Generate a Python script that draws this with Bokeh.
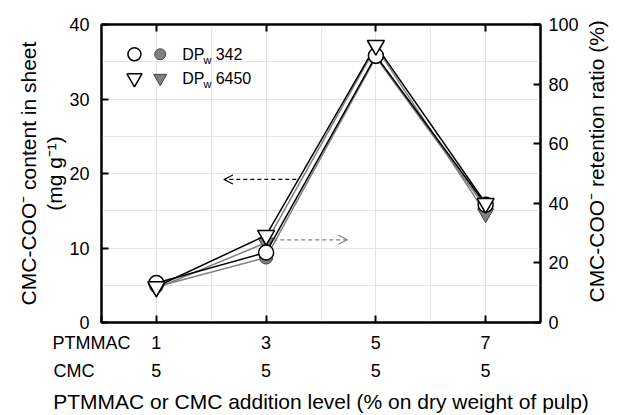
import math
from bokeh.plotting import figure
from bokeh.models import Range1d, LinearAxis, FixedTicker, Title, Label, Arrow, OpenHead
from bokeh.embed import file_html
from bokeh.resources import INLINE

# ---- data ----
x_levels = [1, 3, 5, 7]
ptmmac_labels = ["1", "3", "5", "7"]
cmc_labels = ["5", "5", "5", "5"]
row_names = ["PTMMAC", "CMC"]
content_342 = [5.3, 9.4, 35.8, 15.8]      # open circles, left axis (mg g-1)
content_6450 = [4.8, 11.7, 37.2, 16.0]    # open triangles, left axis
retention_342 = [12.0, 21.8, 89.0, 38.5]  # filled circles, right axis (%)
retention_6450 = [11.5, 26.8, 92.5, 36.6] # filled triangles, right axis
left_ticks = [0, 10, 20, 30, 40]
right_ticks = [0, 20, 40, 60, 80, 100]
right_title = "CMC-COO⁻ retention ratio (%)"

FONT = "Liberation Sans"
GREY = "#808080"
NB = "\u00a0"

p = figure(width=622, height=415, x_range=Range1d(0, 8), y_range=Range1d(0, 40),
           output_backend="svg", toolbar_location=None,
           x_axis_location=None, y_axis_location=None,
           min_border_left=101, min_border_right=74, min_border_top=24, min_border_bottom=93)
p.extra_y_ranges = {"right": Range1d(0, 100)}
p.outline_line_color = "black"
p.outline_line_width = 2
p.background_fill_color = "white"
p.border_fill_color = "white"


def style(ax, tick=True):
    ax.axis_line_color = "black"
    ax.axis_line_width = 2
    ax.major_tick_in = 7
    ax.major_tick_out = 0
    ax.major_tick_line_width = 2
    ax.major_tick_line_color = "black" if tick else None
    ax.minor_tick_line_color = None
    ax.major_label_text_font = FONT
    ax.major_label_text_font_size = "18px"
    ax.major_label_text_color = "black"
    ax.axis_label_text_font = FONT
    ax.axis_label_text_font_size = "21px"
    ax.axis_label_text_font_style = "normal"
    ax.axis_label_text_color = "black"


# left axis
yl = LinearAxis(ticker=FixedTicker(ticks=left_ticks), axis_label="(mg g⁻¹)")
style(yl)
yl.major_label_standoff = 12
yl.axis_label_standoff = 0
p.add_layout(yl, "left")
p.add_layout(Title(text="CMC-COO⁻ content in sheet", align="center", text_font=FONT,
                   text_color="black", text_font_size="21px", text_font_style="normal",
                   standoff=2), "left")

# right axis
yr = LinearAxis(y_range_name="right", ticker=FixedTicker(ticks=right_ticks))
style(yr)
yr.major_label_standoff = 8
p.add_layout(yr, "right")

# right title: a rotated label on a bare axis, reading bottom to top
title_start = 6.7
yr2 = LinearAxis(y_range_name="right", ticker=FixedTicker(ticks=[title_start]),
                 major_label_overrides={title_start: right_title})
style(yr2, tick=False)
yr2.axis_line_color = None
yr2.major_tick_in = 0
yr2.major_label_text_font_size = "21px"
yr2.major_label_orientation = math.pi / 2
yr2.major_label_standoff = 15
p.add_layout(yr2, "right")

# top axis (ticks only)
xt = LinearAxis(ticker=FixedTicker(ticks=x_levels),
                major_label_overrides={x: "" for x in x_levels})
style(xt)
xt.major_label_standoff = 0
p.add_layout(xt, "above")

# bottom axes: row 1 (PTMMAC levels) and row 2 (CMC levels); the row name sits at the
# frame's left corner, padded with no-break spaces so that it ends left of the axis
row_pos = 0
xb1 = LinearAxis(ticker=FixedTicker(ticks=[row_pos] + x_levels),
                 major_label_overrides={row_pos: row_names[0] + NB * 4,
                                        **{x: s for x, s in zip(x_levels, ptmmac_labels)}})
style(xb1)
xb1.major_label_standoff = 10
p.add_layout(xb1, "below")

xb2 = LinearAxis(ticker=FixedTicker(ticks=[row_pos] + x_levels),
                 major_label_overrides={row_pos: row_names[1] + NB * 11,
                                        **{x: s for x, s in zip(x_levels, cmc_labels)}},
                 axis_label="PTMMAC or CMC addition level (% on dry weight of pulp)")
style(xb2, tick=False)
xb2.axis_line_color = None
xb2.major_tick_in = 0
xb2.major_label_standoff = 5
xb2.axis_label_standoff = 6
p.add_layout(xb2, "below")

# ---- data series ----
p.line(x_levels, retention_342, y_range_name="right", line_color=GREY, line_width=1.5)
p.line(x_levels, retention_6450, y_range_name="right", line_color=GREY, line_width=1.5)
p.scatter(x_levels, retention_342, y_range_name="right", marker="circle", size=13,
          fill_color=GREY, line_color="#404040", line_width=1)
p.scatter(x_levels, retention_6450, y_range_name="right", marker="inverted_triangle", size=16,
          fill_color=GREY, line_color="#404040", line_width=1)

p.line(x_levels, content_342, line_color="black", line_width=1.5)
p.line(x_levels, content_6450, line_color="black", line_width=1.5)
p.scatter(x_levels, content_342, marker="circle", size=15,
          fill_color="white", line_color="black", line_width=1.5)
p.scatter(x_levels, content_6450, marker="inverted_triangle", size=17,
          fill_color="white", line_color="black", line_width=1.5)

# ---- arrows ----
p.add_layout(Arrow(end=OpenHead(size=9, line_color="black", line_width=1.2),
                   x_start=3.55, y_start=19.2, x_end=2.23, y_end=19.2,
                   line_color="black", line_width=1.2, line_dash="4 3"))
p.add_layout(Arrow(end=OpenHead(size=9, line_color=GREY, line_width=1.2),
                   x_start=3.13, y_start=11.1, x_end=4.48, y_end=11.1,
                   line_color=GREY, line_width=1.2, line_dash="4 3"))

# ---- legend (hand-built) ----
p.scatter([0.6], [36.0], marker="circle", size=13, fill_color="white", line_color="black", line_width=1.5)
p.scatter([1.07], [36.0], marker="circle", size=11, fill_color=GREY, line_color="#404040", line_width=1)
p.scatter([0.6], [32.8], marker="inverted_triangle", size=15, fill_color="white", line_color="black", line_width=1.5)
p.scatter([1.07], [32.8], marker="inverted_triangle", size=13, fill_color=GREY, line_color="#404040", line_width=1)
for yv, num in [(36.0, "342"), (32.8, "6450")]:
    p.add_layout(Label(x=1.47, y=yv, text="DP", text_font=FONT, text_font_size="16px",
                       text_baseline="middle", text_align="left", text_color="black"))
    p.add_layout(Label(x=1.86, y=yv - 0.75, text="w", text_font=FONT, text_font_size="11px",
                       text_baseline="middle", text_align="left", text_color="black"))
    p.add_layout(Label(x=2.08, y=yv, text=num, text_font=FONT, text_font_size="16px",
                       text_baseline="middle", text_align="left", text_color="black"))

open("out.html", "w").write(file_html(p, INLINE))
